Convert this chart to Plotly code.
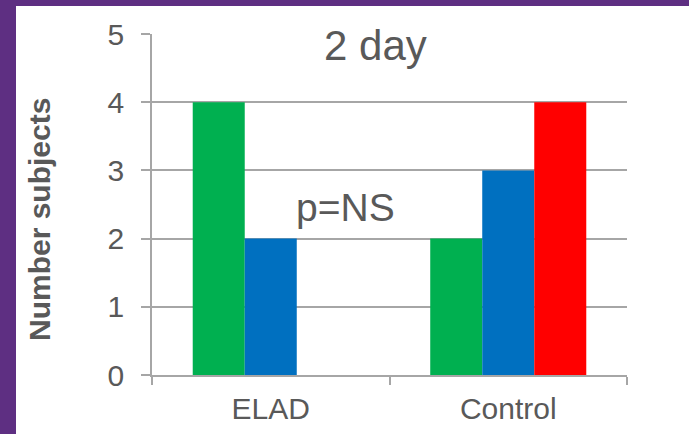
import plotly.graph_objects as go

categories = ["ELAD", "Control"]
green_vals = [4, 2]
blue_vals = [2, 3]
red_vals = [0, 4]
y_ticks = [0, 1, 2, 3, 4, 5]

W, H = 689, 434
L, R, T, B = 152, 62, 34, 59
pw, ph = W - L - R, H - T - B

def px(x):
    return (x - L) / pw

def py(y):
    return (H - B - y) / ph

FONT = "Arial, Liberation Sans, sans-serif"
TXT = "#595959"
GRID = "#A6A6A6"
PURPLE = "#5E2F82"

fig = go.Figure()
for vals, col in [(green_vals, "#00B050"), (blue_vals, "#0070C0"), (red_vals, "#FF0000")]:
    fig.add_trace(go.Bar(x=categories, y=vals, marker=dict(color=col, line=dict(width=0)),
                         showlegend=False, hoverinfo="skip"))

fig.update_layout(
    width=W, height=H,
    margin=dict(l=L, r=R, t=T, b=B, pad=0, autoexpand=False),
    paper_bgcolor="white",
    plot_bgcolor="white",
    barmode="group", bargap=0.343, bargroupgap=0,
    font=dict(family=FONT, color=TXT),
    xaxis=dict(type="category", range=[-0.5, 1.5], tickson="boundaries", ticks="outside",
               ticklen=8, tickwidth=1.5, tickcolor=GRID, showline=True, linecolor=GRID, linewidth=1.5,
               showgrid=False, tickfont=dict(size=30, color=TXT), ticklabelstandoff=6,
               automargin=False),
    yaxis=dict(range=[0, 5], tickvals=y_ticks, ticks="outside", ticklen=9, tickwidth=1.5,
               tickcolor=GRID, showline=True, linecolor=GRID, linewidth=1.5,
               showgrid=True, gridcolor=GRID, gridwidth=1.5, zeroline=False,
               tickfont=dict(size=30, color=TXT), ticklabelstandoff=11, automargin=False),
    shapes=[
        dict(type="rect", xref="paper", yref="paper", layer="below",
             x0=px(-20), x1=px(16), y0=py(H + 20), y1=py(-20),
             fillcolor=PURPLE, line=dict(width=0)),
        dict(type="rect", xref="paper", yref="paper", layer="below",
             x0=px(-20), x1=px(W + 20), y0=py(6), y1=py(-20),
             fillcolor=PURPLE, line=dict(width=0)),
    ],
    annotations=[
        dict(text="2 day", xref="paper", yref="paper", x=px(375), y=py(46),
             xanchor="center", yanchor="middle", showarrow=False,
             font=dict(size=42, color=TXT, family=FONT)),
        dict(text="p=NS", xref="paper", yref="paper", x=px(345), y=py(207),
             xanchor="center", yanchor="middle", showarrow=False,
             font=dict(size=39, color=TXT, family=FONT)),
        dict(text="<b>Number subjects</b>", xref="paper", yref="paper", x=px(39), y=py(220),
             xanchor="center", yanchor="middle", textangle=-90, showarrow=False,
             font=dict(size=30, color=TXT, family=FONT)),
    ],
)

fig.write_html("out.html", config={"displayModeBar": False},
               post_script="document.body.style.margin='0';")
